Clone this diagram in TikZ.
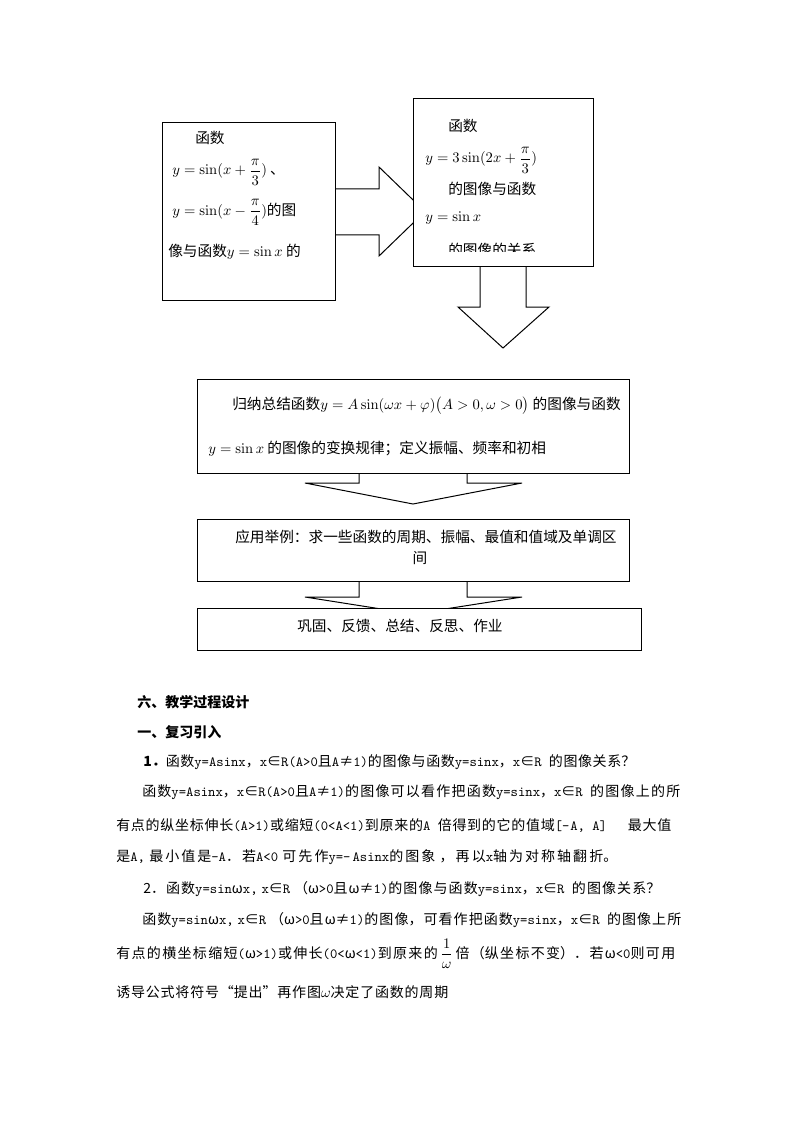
\documentclass[tikz,border=0pt]{standalone}
\usepackage[no-math]{fontspec}
\usepackage{amsmath}
\setmainfont{Noto Sans CJK SC}
\newcommand\lat[1]{{\ttfamily #1}}
\newdimen\pxu \pxu=0.75pt
% one line of the body text, spread out to a given width (in px)
\newcommand\jline[2]{\parbox[b]{#1\pxu}{\XeTeXlinebreaklocale "zh"\XeTeXlinebreakskip=0pt plus 2pt minus 0.4pt\parfillskip=0pt\relax #2}}
\tikzset{
  flowbox/.style={draw,fill=white,line width=0.75pt},
  blockarrow/.style={draw,fill=white,line width=0.75pt,line join=miter},
  boxtext/.style={anchor=base west,inner sep=0pt,font=\fontsize{11pt}{13pt}\selectfont},
  bodytext/.style={anchor=base west,inner sep=0pt,font=\fontsize{10.5pt}{12.6pt}\selectfont},
}
\begin{document}
\begin{tikzpicture}[x=0.75pt,y=-0.75pt]
    \useasboundingbox (0,0) rectangle (794,1123);
    % block arrows
    \draw[blockarrow] (335,189) -- (379,189) -- (379,167) -- (425,211.5) -- (379,256) -- (379,235) -- (335,235) -- cycle;
    \draw[blockarrow] (480,266) -- (480,307) -- (458,307) -- (503,348) -- (549,307) -- (526,307) -- (526,266) -- cycle;
    \draw[blockarrow] (359,473) -- (359,483) -- (305,483) -- (413,504) -- (522,483) -- (467,483) -- (467,473) -- cycle;
    \draw[blockarrow] (359,581) -- (359,597) -- (305,597) -- (413,614) -- (522,597) -- (467,597) -- (467,581) -- cycle;
    % boxes
    \draw[flowbox] (162,123) rectangle (335,300);
    \draw[flowbox] (413,99) rectangle (593,266);
    \draw[flowbox] (197,379) rectangle (629,473);
    \draw[flowbox] (197,519) rectangle (629,581);
    \draw[flowbox] (197,608) rectangle (641,650);
    % box texts
    \node[boxtext] (shifta) at (195,144) {函数};
    \node[boxtext] (shiftb) at (172,175) {$y=\sin(x+\dfrac{\pi}{3})$ 、};
    \node[boxtext] (shiftc) at (172,215) {$y=\sin(x-\dfrac{\pi}{4})$的图};
    \node[boxtext] (shiftd) at (168,256) {像与函数$y=\sin x$ 的};
    \node[boxtext] (stretcha) at (448,132) {函数};
    \node[boxtext] (stretchb) at (425,163) {$y=3\sin(2x+\dfrac{\pi}{3})$};
    \node[boxtext] (stretchc) at (448,195) {的图像与函数};
    \node[boxtext] (stretchd) at (425,222) {$y=\sin x$};
    \begin{scope}
        \clip (413,238) rectangle (593,251);
        \node[boxtext] (stretche) at (448,255) {的图像的关系};
    \end{scope}
    \node[boxtext] (suma) at (232,409) {归纳总结函数$y=A\sin(\omega x+\varphi)\bigl(A>0,\omega>0\bigr)$ 的图像与函数};
    \node[boxtext] (sumb) at (208,453) {$y=\sin x$ 的图像的变换规律；定义振幅、频率和初相};
    \node[boxtext] (usea) at (235,542) {应用举例：求一些函数的周期、振幅、最值和值域及单调区};
    \node[boxtext,anchor=base] (useb) at (420,563) {间};
    \node[boxtext] (review) at (297,631) {巩固、反馈、总结、反思、作业};
    % text below the chart
    \node[bodytext] (sect) at (137,707) {\textbf{六、教学过程设计}};
    \node[bodytext] (subsect) at (137,737) {\textbf{一、复习引入}};
    \node[bodytext] (qa) at (143,766) {\jline{492}{\textbf{1．}函数\lat{y=Asinx}，\lat{x}∈\lat{R(A>0}且\lat{A}≠\lat{1)}的图像与函数\lat{y=sinx}，\lat{x}∈\lat{R }的图像关系？}};
    \node[bodytext] (ansa) at (142,796) {\jline{538}{函数\lat{y=Asinx}，\lat{x}∈\lat{R(A>0}且\lat{A}≠\lat{1)}的图像可以看作把函数\lat{y=sinx}，\lat{x}∈\lat{R }的图像上的所}};
    \node[bodytext] (ansb) at (116,830) {\jline{555}{有点的纵坐标伸长\lat{(A>1)}或缩短\lat{(0<A<1)}到原来的\lat{A }倍得到的它的值域\lat{[-A, A]}\hspace{14pt plus 6pt}最大值}};
    \node[bodytext] (ansc) at (116,861) {\jline{501}{是\lat{A,} 最小值是\lat{-A}．若\lat{A<0} 可先作\lat{y=-Asinx}的图象 ，再以\lat{x}轴为对称轴翻折。}};
    \node[bodytext] (qb) at (143,893) {\jline{517}{2．函数\lat{y=sin}ω\lat{x,} \lat{x}∈\lat{R} （ω\lat{>0}且ω≠\lat{1)}的图像与函数\lat{y=sinx}，\lat{x}∈\lat{R }的图像关系？}};
    \node[bodytext] (ansd) at (142,924) {\jline{539}{函数\lat{y=sin}ω\lat{x,} \lat{x}∈\lat{R} （ω\lat{>0}且ω≠\lat{1)}的图像，可看作把函数\lat{y=sinx}，\lat{x}∈\lat{R }的图像上所}};
    \node[bodytext] (anse) at (116,958) {\jline{559}{有点的横坐标缩短\lat{(}ω\lat{>1)}或伸长\lat{(0<}ω\lat{<1)}到原来的$\,\dfrac{1}{\omega}\,$倍（纵坐标不变）．若ω\lat{<0}则可用}};
    \node[bodytext] (ansf) at (116,997) {\jline{332}{诱导公式将符号“提出”再作图$\omega$决定了函数的周期}};
\end{tikzpicture}
\end{document}
